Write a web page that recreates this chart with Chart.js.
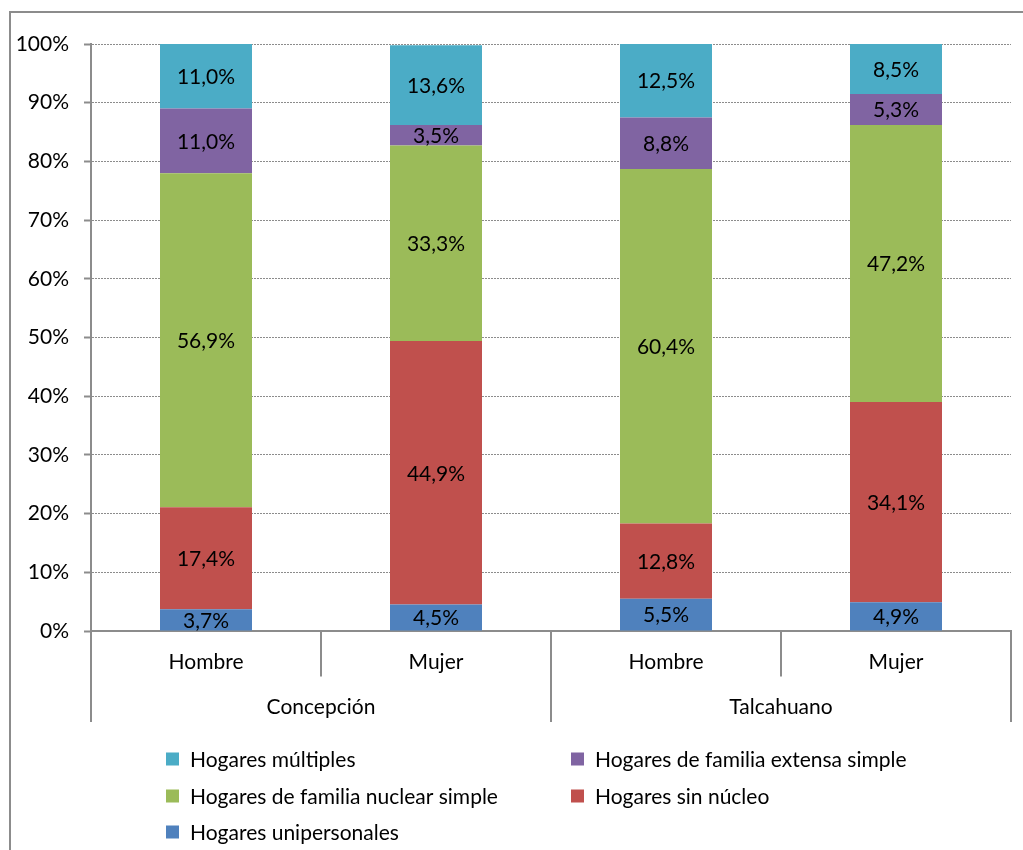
<!DOCTYPE html>
<html>
<head>
<meta charset="utf-8">
<script src="https://cdn.jsdelivr.net/npm/chart.js@4/dist/chart.umd.min.js"></script>
<style>
  html, body { margin: 0; padding: 0; background: #fff; }
  #wrap { width: 1023px; height: 850px; }
</style>
</head>
<body>
<div id="wrap"><canvas id="chart" width="1023" height="850"></canvas></div>
<script>
// Tipos de hogar por sexo del jefe de hogar (%)
const comunas = ["Concepción", "Talcahuano"];
const sexos = ["Hombre", "Mujer", "Hombre", "Mujer"];

const unipersonales = [3.7, 4.5, 5.5, 4.9];
const sinNucleo = [17.4, 44.9, 12.8, 34.1];
const nuclearSimple = [56.9, 33.3, 60.4, 47.2];
const extensaSimple = [11.0, 3.5, 8.8, 5.3];
const multiples = [11.0, 13.6, 12.5, 8.5];

const yMax = 100;
const yStep = 10;

const FONT = "Lato, 'Open Sans', sans-serif";
const FONT_SIZE = 21;
const AXIS_GRAY = "#8c8c8c";

const palette = {
  unipersonales: "#4f81bd",
  sinNucleo: "#c0504d",
  nuclear: "#9bbb59",
  extensa: "#8064a2",
  multiples: "#4bacc6"
};

const datasets = [
  { label: "Hogares unipersonales", data: unipersonales, backgroundColor: palette.unipersonales },
  { label: "Hogares sin núcleo", data: sinNucleo, backgroundColor: palette.sinNucleo },
  { label: "Hogares de familia nuclear simple", data: nuclearSimple, backgroundColor: palette.nuclear },
  { label: "Hogares de familia extensa simple", data: extensaSimple, backgroundColor: palette.extensa },
  { label: "Hogares múltiples", data: multiples, backgroundColor: palette.multiples }
];

// legend reads top-down, two columns
const legendOrder = [4, 3, 2, 1, 0];

function formatPct(v) {
  return v.toFixed(1).replace(".", ",") + "%";
}

const frame = {
  id: "frame",
  beforeDraw(chart) {
    const ctx = chart.ctx;
    ctx.save();
    ctx.fillStyle = "#fff";
    ctx.fillRect(0, 0, chart.width, chart.height);
    ctx.strokeStyle = AXIS_GRAY;
    ctx.lineWidth = 2;
    ctx.strokeRect(10, 12, chart.width + 20, chart.height + 20);
    ctx.restore();
  }
};

const segmentLabels = {
  id: "segmentLabels",
  afterDatasetsDraw(chart) {
    const ctx = chart.ctx;
    ctx.save();
    ctx.font = FONT_SIZE + "px " + FONT;
    ctx.fillStyle = "#000";
    ctx.textAlign = "center";
    ctx.textBaseline = "middle";
    chart.data.datasets.forEach((ds, i) => {
      chart.getDatasetMeta(i).data.forEach((bar, j) => {
        const y = (bar.y + bar.base) / 2;
        ctx.fillText(formatPct(ds.data[j]), bar.x, y + 1);
      });
    });
    ctx.restore();
  }
};

// two-level category axis: sexo on the first row, comuna below
const groupedAxis = {
  id: "groupedAxis",
  afterDraw(chart) {
    const ctx = chart.ctx;
    const x = chart.scales.x;
    const area = chart.chartArea;
    const rowH = (x.bottom - x.top) / 2;
    const half = (x.getPixelForValue(1) - x.getPixelForValue(0)) / 2;

    ctx.save();
    ctx.strokeStyle = AXIS_GRAY;
    ctx.lineWidth = 2;
    ctx.beginPath();
    ctx.moveTo(area.left, area.bottom);
    ctx.lineTo(area.left, x.bottom);
    sexos.forEach((s, i) => {
      const edge = Math.round(x.getPixelForValue(i) + half);
      const bottom = (i % 2 === 1) ? x.bottom : x.top + rowH;
      ctx.moveTo(edge, area.bottom);
      ctx.lineTo(edge, bottom);
    });
    ctx.stroke();

    ctx.font = FONT_SIZE + "px " + FONT;
    ctx.fillStyle = "#000";
    ctx.textAlign = "center";
    ctx.textBaseline = "middle";
    sexos.forEach((s, i) => {
      ctx.fillText(s, x.getPixelForValue(i), x.top + rowH / 2 + 8);
    });
    comunas.forEach((c, k) => {
      const mid = (x.getPixelForValue(2 * k) + x.getPixelForValue(2 * k + 1)) / 2;
      ctx.fillText(c, mid, x.top + rowH * 1.5 + 8);
    });
    ctx.restore();
  }
};

const boxLegend = {
  id: "boxLegend",
  afterDraw(chart) {
    const ctx = chart.ctx;
    const colX = [166, 571];
    const rowY = [759, 796, 832];
    ctx.save();
    ctx.font = FONT_SIZE + "px " + FONT;
    ctx.textBaseline = "middle";
    ctx.textAlign = "left";
    legendOrder.forEach((di, n) => {
      const ds = chart.data.datasets[di];
      const cx = colX[n % 2];
      const cy = rowY[Math.floor(n / 2)];
      ctx.fillStyle = ds.backgroundColor;
      ctx.fillRect(cx, cy - 6.5, 13, 13);
      ctx.fillStyle = "#000";
      ctx.fillText(ds.label, cx + 24, cy + 1);
    });
    ctx.restore();
  }
};

new Chart(document.getElementById("chart"), {
  type: "bar",
  data: { labels: sexos, datasets: datasets },
  options: {
    responsive: false,
    animation: false,
    layout: { padding: { left: 0, top: 44, right: 12, bottom: 128 } },
    datasets: {
      bar: { categoryPercentage: 1, barPercentage: 0.4, borderWidth: 0 }
    },
    plugins: {
      legend: { display: false },
      tooltip: { enabled: false }
    },
    scales: {
      x: {
        stacked: true,
        ticks: { display: false },
        grid: { display: false },
        border: { display: true, color: AXIS_GRAY, width: 2 },
        afterFit(scale) { scale.height = 91; }
      },
      y: {
        stacked: true,
        min: 0,
        max: yMax,
        ticks: {
          stepSize: yStep,
          padding: 15,
          color: "#000",
          font: { family: FONT, size: FONT_SIZE },
          callback: (v) => v + "%"
        },
        grid: {
          color: AXIS_GRAY,
          lineWidth: 1,
          tickLength: 7,
          tickWidth: 2,
          tickColor: AXIS_GRAY,
          tickBorderDash: []
        },
        border: { display: true, color: AXIS_GRAY, width: 2, dash: [2, 1] },
        afterFit(scale) { scale.width = 91; }
      }
    }
  },
  plugins: [frame, segmentLabels, groupedAxis, boxLegend]
});
</script>
</body>
</html>
